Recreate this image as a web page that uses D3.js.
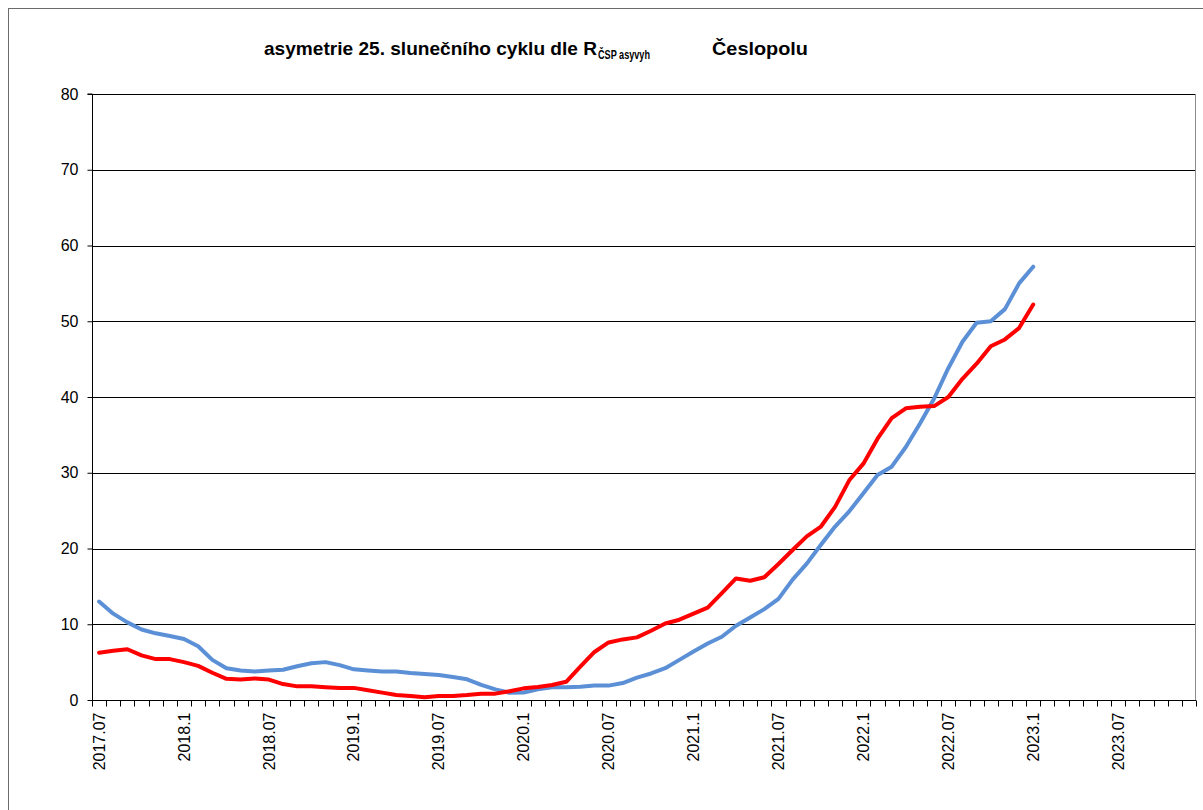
<!DOCTYPE html>
<html>
<head>
<meta charset="utf-8">
<script src="https://cdn.jsdelivr.net/npm/d3@7"></script>
<style>
  body { margin: 0; background: #fff; }
  text { font-family: Arial, "Liberation Sans", sans-serif; }
</style>
</head>
<body>
<script>

// monthly categories 2017.07 .. 2023.12
const startYear = 2017, startMonth = 7, monthCount = 78;
const categories = [];
for (let i = 0; i < monthCount; i++) {
  const m = startMonth - 1 + i;
  categories.push(`${startYear + Math.floor(m / 12)}-${String(m % 12 + 1).padStart(2, '0')}`);
}

// labels shown every 6 months
const tickCategories = ['2017-07', '2018-01', '2018-07', '2019-01', '2019-07', '2020-01', '2020-07',
  '2021-01', '2021-07', '2022-01', '2022-07', '2023-01', '2023-07'];
const tickLabels = ['2017.07', '2018.1', '2018.07', '2019.1', '2019.07', '2020.1', '2020.07',
  '2021.1', '2021.07', '2022.1', '2022.07', '2023.1', '2023.07'];

const yTicks = [0, 10, 20, 30, 40, 50, 60, 70, 80];

// blue series (2017.07 .. 2023.01)
const blueValues = [13.0, 11.4, 10.25, 9.3, 8.8, 8.45, 8.05, 7.1, 5.3, 4.2, 3.9, 3.75,
  3.9, 4.0, 4.45, 4.85, 5.0, 4.6, 4.05, 3.9, 3.75, 3.75, 3.56, 3.43,
  3.3, 3.04, 2.73, 2.0, 1.4, 0.95, 1.0, 1.41, 1.67, 1.67, 1.76, 1.9,
  1.9, 2.24, 2.95, 3.5, 4.2, 5.3, 6.4, 7.45, 8.35, 9.8, 10.9, 12.0,
  13.35, 15.9, 18.0, 20.5, 22.9, 24.9, 27.3, 29.7, 30.8, 33.4, 36.5, 39.8,
  43.8, 47.3, 49.8, 50.0, 51.6, 55.0, 57.2];

// red series (2017.07 .. 2023.01)
const redValues = [6.25, 6.5, 6.7, 5.9, 5.4, 5.4, 5.0, 4.5, 3.6, 2.8, 2.7, 2.85,
  2.7, 2.1, 1.8, 1.8, 1.68, 1.6, 1.6, 1.3, 0.97, 0.66, 0.53, 0.35,
  0.53, 0.53, 0.66, 0.84, 0.84, 1.15, 1.54, 1.72, 1.98, 2.4, 4.4, 6.34,
  7.6, 8.0, 8.27, 9.15, 10.1, 10.6, 11.4, 12.2, 14.1, 16.05, 15.75, 16.2,
  17.95, 19.8, 21.6, 22.9, 25.5, 29.0, 31.2, 34.5, 37.2, 38.5, 38.7, 38.8,
  40.0, 42.4, 44.4, 46.7, 47.6, 49.1, 52.2];

const seriesColors = ['#5B8FD6', '#FF0000'];

class chart {

  constructor(opts) {
    this.element = opts.element;
    this.series = opts.series;
    this.draw();
  }

  draw() {
    this.width = 1203;
    this.height = 810;
    this.margin = { top: 94, right: 7, bottom: 110, left: 92 };

    this.innerWidth = this.width - (this.margin.left + this.margin.right);
    this.innerHeight = this.height - (this.margin.top + this.margin.bottom);

    const svg = d3.select(this.element).append('svg')
      .attr('width', this.width)
      .attr('height', this.height);
    this.svg = svg;

    // chart area frame
    svg.append('rect')
      .attr('x', 8.5).attr('y', 8.5)
      .attr('width', this.width).attr('height', this.height)
      .attr('fill', 'none')
      .attr('stroke', '#6b6b6b');

    this.plot = svg.append('g')
      .attr('transform', `translate(${this.margin.left},${this.margin.top})`);

    this.createScales();
    this.addAxes();
    this.addChart();
    this.addTitle();
  }

  createScales() {
    this.xScale = d3.scaleBand()
      .domain(categories)
      .range([0, this.innerWidth])
      .padding(0);

    this.yScale = d3.scaleLinear()
      .domain([0, 80])
      .range([this.innerHeight, 0]);
  }

  addAxes() {
    const x = this.xScale, y = this.yScale;

    // grid lines
    this.plot.append('g')
      .attr('class', 'grid')
      .selectAll('line')
      .data(yTicks.slice(1))
      .enter().append('line')
        .attr('x1', 0).attr('x2', this.innerWidth)
        .attr('y1', d => Math.round(y(d)) + 0.5)
        .attr('y2', d => Math.round(y(d)) + 0.5)
        .attr('stroke', '#000')
        .attr('stroke-width', 1);

    // plot area right border
    this.plot.append('line')
      .attr('x1', this.innerWidth - 0.5).attr('x2', this.innerWidth - 0.5)
      .attr('y1', y(80)).attr('y2', y(0))
      .attr('stroke', '#8c8c8c');

    // y axis
    const yAxis = d3.axisLeft(y)
      .tickValues(yTicks)
      .tickSize(5)
      .tickPadding(9)
      .tickFormat(d3.format('d'));

    this.plot.append('g')
      .attr('class', 'y axis')
      .attr('transform', 'translate(0.5,0)')
      .call(yAxis)
      .call(g => g.select('.domain').attr('d', `M-5,${y(80)}H0V${y(0) + 0.5}`).attr('stroke', '#000'))
      .call(g => g.selectAll('.tick line').attr('stroke', '#000'))
      .call(g => g.selectAll('.tick text')
        .attr('font-size', 16)
        .attr('fill', '#000'));

    // x axis: tick marks between categories
    const xAxisG = this.plot.append('g')
      .attr('class', 'x axis')
      .attr('transform', `translate(0,${Math.round(y(0)) + 0.5})`);

    xAxisG.append('line')
      .attr('x1', 0).attr('x2', this.innerWidth)
      .attr('stroke', '#000');

    const bounds = categories.map(c => x(c)).concat([this.innerWidth]);
    xAxisG.selectAll('.mtick')
      .data(bounds)
      .enter().append('line')
        .attr('class', 'mtick')
        .attr('x1', d => Math.round(d) + 0.5)
        .attr('x2', d => Math.round(d) + 0.5)
        .attr('y1', 0).attr('y2', 6)
        .attr('stroke', '#000');

    const xAxis = d3.axisBottom(x)
      .tickValues(tickCategories)
      .tickSize(0)
      .tickFormat(d => tickLabels[tickCategories.indexOf(d)]);

    xAxisG.append('g')
      .call(xAxis)
      .call(g => g.select('.domain').remove())
      .call(g => g.selectAll('.tick text')
        .attr('font-size', 16)
        .attr('fill', '#000')
        .attr('transform', 'rotate(-90)')
        .attr('text-anchor', 'end')
        .attr('dy', '0.35em')
        .attr('x', -12)
        .attr('y', 0));
  }

  addChart() {
    const x = this.xScale, y = this.yScale;
    const line = d3.line()
      .x((d, i) => x(categories[i]) + x.bandwidth() / 2)
      .y(d => y(d));

    this.plot.selectAll('.series')
      .data(this.series)
      .enter().append('path')
        .attr('class', 'series')
        .attr('d', d => line(d.values))
        .attr('fill', 'none')
        .attr('stroke', d => d.color)
        .attr('stroke-width', 4)
        .attr('stroke-linejoin', 'round')
        .attr('stroke-linecap', 'round');
  }

  addTitle() {
    const title = this.svg.append('g')
      .attr('font-weight', 'bold')
      .attr('fill', '#000');

    title.append('text')
      .attr('x', 264).attr('y', 55)
      .attr('font-size', 18.5)
      .attr('textLength', 333)
      .attr('lengthAdjust', 'spacingAndGlyphs')
      .text('asymetrie 25. slunečního cyklu dle R');

    title.append('text')
      .attr('x', 598).attr('y', 59)
      .attr('font-size', 12)
      .attr('textLength', 52)
      .attr('lengthAdjust', 'spacingAndGlyphs')
      .text('ČSP asyvyh');

    title.append('text')
      .attr('x', 712).attr('y', 55)
      .attr('font-size', 18.5)
      .attr('textLength', 96)
      .attr('lengthAdjust', 'spacingAndGlyphs')
      .text('Česlopolu');
  }

}

new chart({
  element: document.querySelector('body'),
  series: [
    { name: 'blue', values: blueValues, color: seriesColors[0] },
    { name: 'red', values: redValues, color: seriesColors[1] }
  ]
});

</script>
</body>
</html>
